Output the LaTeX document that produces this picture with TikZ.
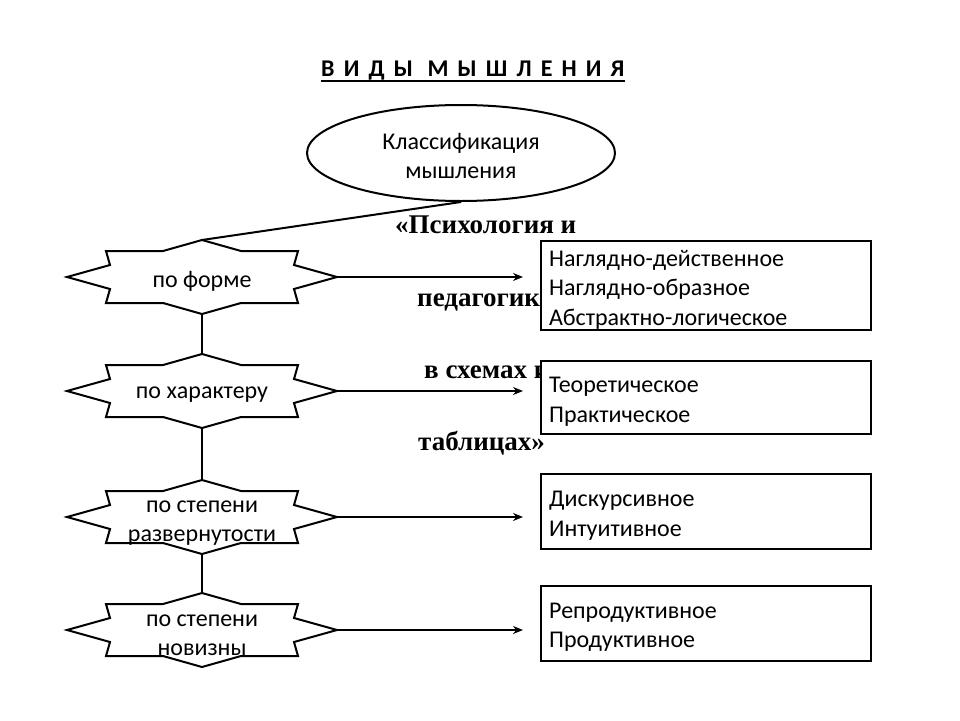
\documentclass[tikz,border=0pt]{standalone}
\usepackage{fontspec}
\setmainfont{Carlito}
\newfontfamily\timesb{Liberation Serif}
\usetikzlibrary{shapes.geometric,arrows.meta}
\tikzset{
  starpic/.pic={
    \draw[line width=2pt,fill=white,line join=miter]
      (-135,0) -- (-92,-12) -- (-96,-26) -- (-39,-26) -- (0,-37) -- (39,-26) -- (96,-26) -- (92,-12)
      -- (135,0) -- (92,12) -- (96,26) -- (39,26) -- (0,37) -- (-39,26) -- (-96,26) -- (-92,12) -- cycle;
    \coordinate (-top) at (0,-37);
    \coordinate (-bot) at (0,37);
    \coordinate (-right) at (135,0);
  },
  startext/.style={font=\fontsize{24}{29}\selectfont,align=center,inner sep=0pt},
  listbox/.style={draw,line width=2pt,fill=white,minimum width=330pt,inner sep=0pt,anchor=north west},
  listtext/.style={align=left,inner sep=0pt,anchor=west,font=\fontsize{24}{29.5}\selectfont},
  conn/.style={line width=2pt},
  arr/.style={line width=2pt,-{Stealth[length=10pt,width=8pt]}},
  overtext/.style={font=\timesb\bfseries\fontsize{27}{27}\selectfont,anchor=base west,inner sep=0pt},
}
\begin{document}
\begin{tikzpicture}[x=1pt,y=-1pt]
\useasboundingbox (0,0) rectangle (960,720);
% title
\node[inner sep=0pt,anchor=base west,font=\bfseries\fontsize{24}{24}\selectfont\addfontfeatures{LetterSpace=38}] (title) at (321,76) {ВИДЫ МЫШЛЕНИЯ};
\draw[line width=1.5pt] ([yshift=-5pt]title.base west) -- ([yshift=-5pt]title.base east);
% ellipse
\node[draw,ellipse,line width=2pt,minimum width=308pt,minimum height=96pt,inner sep=0pt] (ell) at (461,153) {};
\node[align=center,inner sep=0pt,font=\fontsize{24}{29}\selectfont] (ellt) at (461,156) {Классификация\\мышления};
% overlay text
\node[overtext] (t1) at (395,233) {«Психология и};
\node[overtext] (t2) at (417,306) {педагогика»};
\node[overtext] (t3) at (424,378) {в схемах и};
\node[overtext] (t4) at (418,450) {таблицах»};
% stars
\pic (s1) at (202,277) {starpic};
\pic (s2) at (202,391) {starpic};
\pic (s3) at (202,517) {starpic};
\pic (s4) at (202,630) {starpic};
\node[startext] (n1) at (202,281) {по форме};
\node[startext] (n2) at (202,395) {по характеру};
\node[startext] (n3) at (202,523) {по степени\\развернутости};
\node[startext] (n4) at (202,635) {по степени\\новизны};
% boxes
\node[listbox,minimum height=89pt] (b1) at (540,240) {};
\node[listbox,minimum height=73pt] (b2) at (540,360) {};
\node[listbox,minimum height=75pt] (b3) at (540,473) {};
\node[listbox,minimum height=75pt] (b4) at (540,585) {};
\node[listtext] (l1) at ([xshift=9pt,yshift=-4pt]b1.west) {Наглядно-действенное\\Наглядно-образное\\Абстрактно-логическое};
\node[listtext] (l2) at ([xshift=9pt,yshift=-4pt]b2.west) {Теоретическое\\Практическое};
\node[listtext] (l3) at ([xshift=9pt,yshift=-4pt]b3.west) {Дискурсивное\\Интуитивное};
\node[listtext] (l4) at ([xshift=9pt,yshift=-4pt]b4.west) {Репродуктивное\\Продуктивное};
% connectors
\coordinate (ax) at (523,0);
\draw[conn] (ell.south) -- (s1-top);
\draw[conn] (s1-bot) -- (s2-top);
\draw[conn] (s2-bot) -- (s3-top);
\draw[conn] (s3-bot) -- (s4-top);
\draw[arr] (s1-right) -- (s1-right -| ax);
\draw[arr] (s2-right) -- (s2-right -| ax);
\draw[arr] (s3-right) -- (s3-right -| ax);
\draw[arr] (s4-right) -- (s4-right -| ax);
\end{tikzpicture}
\end{document}
